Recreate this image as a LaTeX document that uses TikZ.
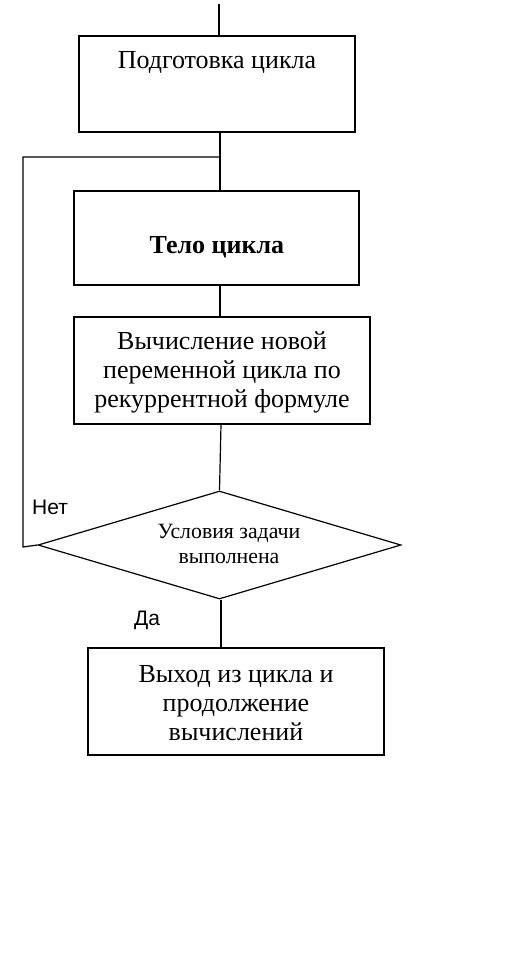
\documentclass[tikz,border=0pt]{standalone}
\usepackage{fontspec}
\setmainfont{Liberation Serif}
\newfontfamily\sansf{Liberation Sans}
\usetikzlibrary{shapes.geometric}
\begin{document}
\begin{tikzpicture}[x=1pt,y=-1pt,line width=1.2pt,
  box/.style={draw,fill=white,rectangle,inner sep=0pt},
  btext/.style={align=center,inner sep=0pt,font=\fontsize{26}{29}\selectfont},
  dtext/.style={align=center,inner sep=0pt,font=\fontsize{21.8}{25}\selectfont},
  lbl/.style={inner sep=0pt,font=\sansf\fontsize{21}{24}\selectfont},
  conn/.style={draw,line width=1.2pt}]
\useasboundingbox[fill=white] (0,0) rectangle (515,972);

\node[box,minimum width=276pt,minimum height=96pt] (b1) at (217,84) {};
\node[btext,anchor=base] (b1t) at (217,68) {Подготовка цикла};
\node[box,minimum width=285pt,minimum height=94pt] (b2) at (216.5,238) {};
\node[btext,font=\fontsize{26}{29}\selectfont\bfseries,anchor=base] (b2t) at (217,253) {Тело цикла};
\node[box,minimum width=296pt,minimum height=107pt] (b3) at (222,370.5) {};
\node[btext] (b3t) at (222,372.5) {Вычисление новой\\переменной цикла по\\рекуррентной формуле};
\node[draw,fill=white,diamond,inner sep=0pt,minimum width=363pt,minimum height=108pt] (d) at (219.5,545) {};
\node[dtext] (dt) at (229,544) {Условия задачи\\выполнена};
\node[box,minimum width=296pt,minimum height=107pt] (b4) at (236,701.5) {};
\node[btext] (b4t) at (236,703) {Выход из цикла и\\продолжение\\вычислений};

\node[lbl] (no) at (50,507) {Нет};
\node[lbl] (yes) at (147,620) {Да};

\coordinate (top) at (219,4);
\coordinate (j) at (220,157);
\coordinate (l2) at (23,547);

\draw[conn] (top) -- (top |- b1.north);
\draw[conn] ([xshift=3pt]b1.south) -- ([xshift=3.5pt]b2.north);
\draw[conn] (j) -| (l2) -- (d.west);
\draw[conn] ([xshift=3.5pt]b2.south) -- ([xshift=-2pt]b3.north);
\draw[conn] ([xshift=-1pt]b3.south) -- (d.north);
\draw[conn] ([xshift=1.5pt]d.south) -- ([xshift=1.5pt]d.south |- b4.north);
\end{tikzpicture}
\end{document}
